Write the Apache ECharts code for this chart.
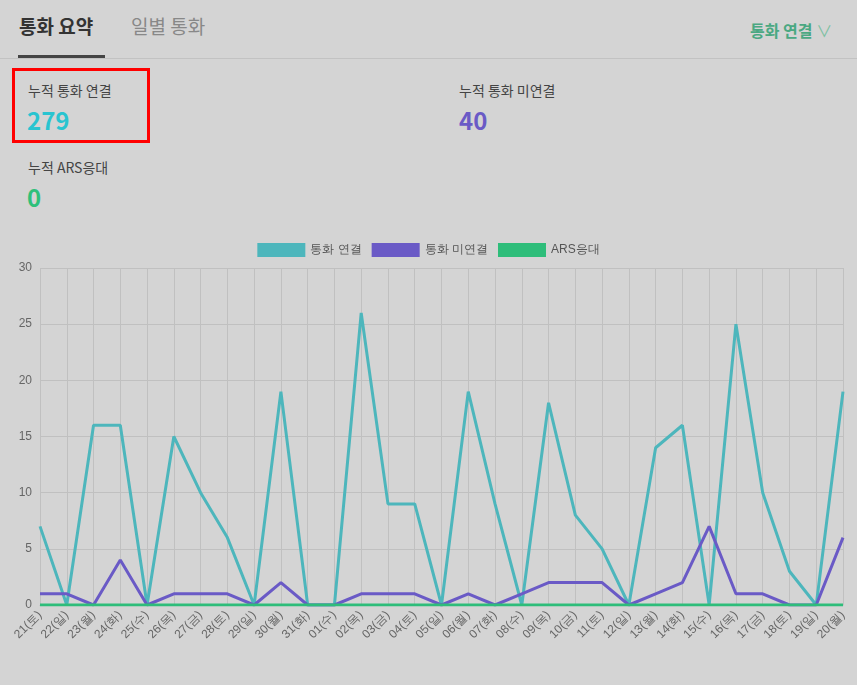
<!DOCTYPE html>
<html>
<head>
	<meta charset="utf-8">
	<title>통화 요약</title>
	<script src="https://cdn.jsdelivr.net/npm/echarts@6/dist/echarts.min.js"></script>
	<style>
	body { margin:0; background:#d4d4d4; font-family:"Noto Sans CJK KR","Noto Sans",sans-serif; color:#444; }
	#wrap { position:relative; width:857px; height:685px; overflow:hidden; }
	.abs { position:absolute; white-space:nowrap; }
	</style>
</head>
<body>
<div id="wrap">
	<div class="abs" style="left:19px;top:12px;font-size:19px;font-weight:bold;color:#333;">통화 요약</div>
	<div class="abs" style="left:18px;top:55px;width:87px;height:3px;background:#444;"></div>
	<div class="abs" style="left:131px;top:12px;font-size:19px;color:#888;">일별 통화</div>
	<div class="abs" style="left:750px;top:18px;font-size:16px;font-weight:bold;color:#4aa882;">통화 연결 <span style="font-weight:normal;color:#7cc0a2;">∨</span></div>
	<div class="abs" style="left:0;top:58px;width:857px;height:1px;background:#c2c2c2;"></div>

	<div class="abs" style="left:12px;top:68px;width:132px;height:69px;border:3px solid #f00;"></div>
	<div class="abs" style="left:28px;top:80px;font-size:14px;">누적 통화 연결</div>
	<div class="abs" style="left:27px;top:102px;font-size:24px;font-weight:bold;color:#29c4d0;">279</div>
	<div class="abs" style="left:459px;top:80px;font-size:14px;">누적 통화 미연결</div>
	<div class="abs" style="left:459px;top:102px;font-size:24px;font-weight:bold;color:#6a5ac6;">40</div>
	<div class="abs" style="left:28px;top:157px;font-size:14px;">누적 ARS응대</div>
	<div class="abs" style="left:27px;top:179px;font-size:24px;font-weight:bold;color:#2ec07a;">0</div>

	<div id="main" class="abs" style="left:0;top:230px;width:857px;height:455px;"></div>
</div>
<script type="text/javascript">
	var days = ['21(토)','22(일)','23(월)','24(화)','25(수)','26(목)','27(금)','28(토)','29(일)','30(월)','31(화)',
		'01(수)','02(목)','03(금)','04(토)','05(일)','06(월)','07(화)','08(수)','09(목)','10(금)','11(토)','12(일)',
		'13(월)','14(화)','15(수)','16(목)','17(금)','18(토)','19(일)','20(월)'];
	var connected = [7,0,16,16,0,15,10,6,0,19,0,0,26,9,9,0,19,9,0,18,8,5,0,14,16,0,25,10,3,0,19];
	var missed = [1,1,0,4,0,1,1,1,0,2,0,0,1,1,1,0,1,0,1,2,2,2,0,1,2,7,1,1,0,0,6];
	var ars = [0,0,0,0,0,0,0,0,0,0,0,0,0,0,0,0,0,0,0,0,0,0,0,0,0,0,0,0,0,0,0];

	var myChart = echarts.init(document.getElementById('main'));

	function line(name, data, color) {
		return { name: name, type: 'line', data: data, showSymbol: false, symbol: 'none',
			lineStyle: { width: 3, color: color }, itemStyle: { color: color } };
	}

	var option = {
		animation: false,
		legend: {
			top: 8, itemWidth: 48, itemHeight: 14, itemGap: 10,
			textStyle: { fontSize: 12, color: '#555' },
			icon: 'rect'
		},
		grid: { left: 40, right: 14, top: 38, bottom: 80 },
		xAxis: {
			type: 'category', boundaryGap: false, data: days,
			axisLine: { lineStyle: { color: '#bbb' } },
			axisTick: { show: false },
			splitLine: { show: true, lineStyle: { color: '#c0c0c0' } },
			axisLabel: { rotate: 45, color: '#666', fontSize: 12, interval: 0 }
		},
		yAxis: {
			type: 'value', min: 0, max: 30, interval: 5,
			axisLine: { show: false },
			axisLabel: { color: '#666', fontSize: 12 },
			splitLine: { lineStyle: { color: '#c0c0c0' } }
		},
		series: [
			line('통화 연결', connected, '#4db6bc'),
			line('통화 미연결', missed, '#6a5ac6'),
			line('ARS응대', ars, '#2ebd7a')
		]
	};
	myChart.setOption(option);
</script>
</body>
</html>
